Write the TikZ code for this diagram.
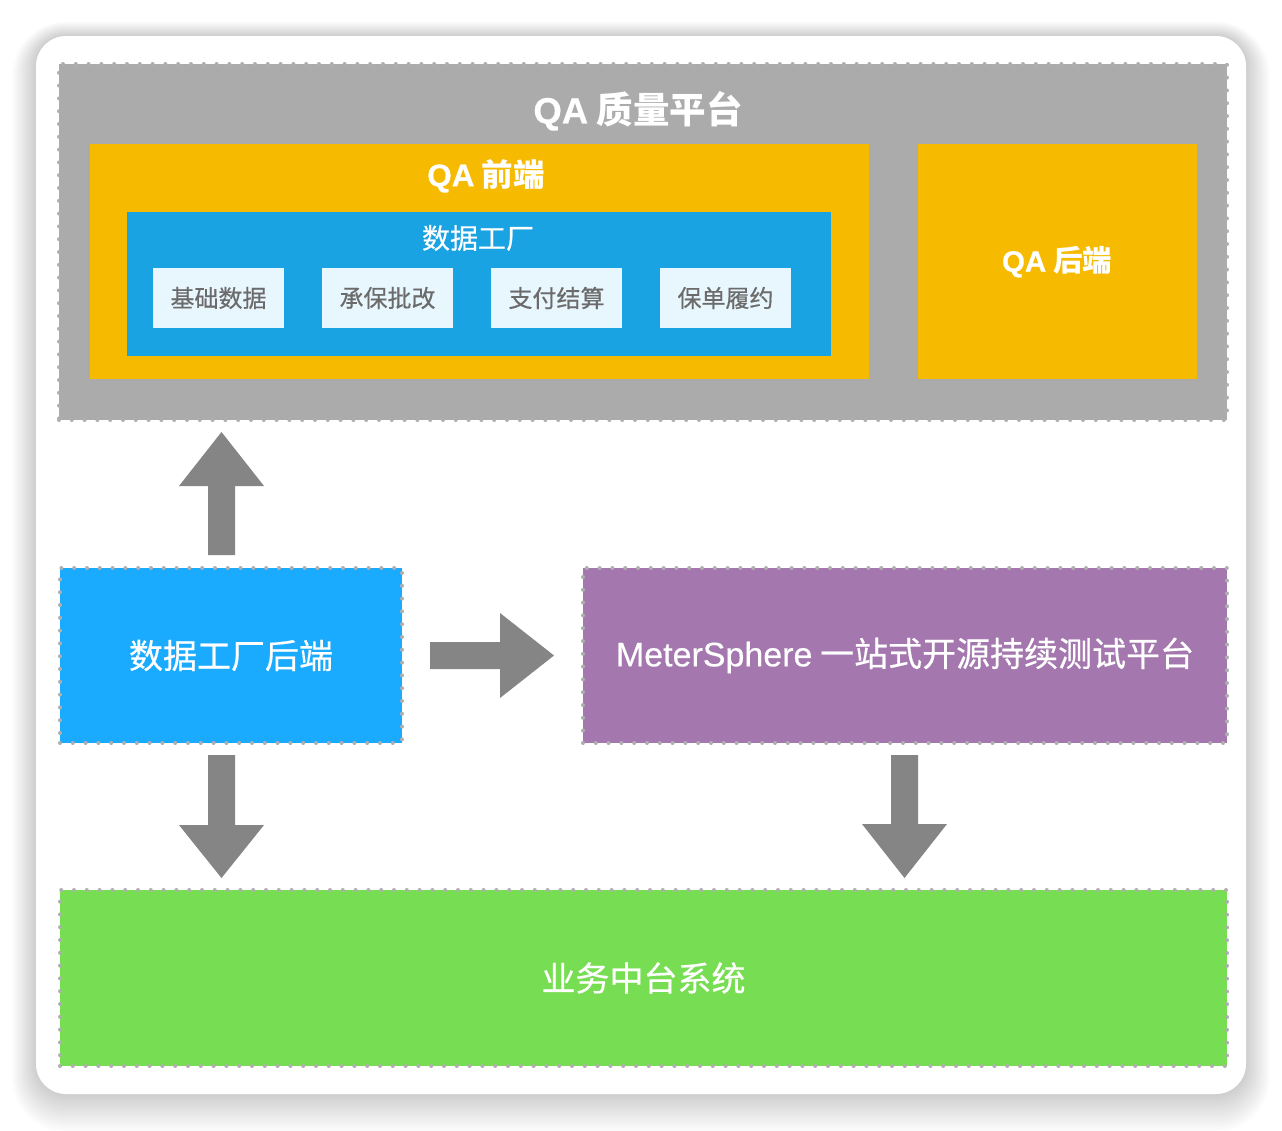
\documentclass[tikz,border=0pt]{standalone}
\usepackage{fontspec}
\setmainfont{Noto Sans CJK SC}
\newfontfamily\cjkm[FakeBold=0.5]{Noto Sans CJK SC}
\newfontfamily\latm[FakeBold=0.4]{Liberation Sans}
\newfontfamily\latb[UprightFont={* Bold}, FakeBold=0.6]{Liberation Sans}
\usetikzlibrary{calc}
\definecolor{qgray}{HTML}{ABABAB}
\definecolor{qorange}{HTML}{F6BA00}
\definecolor{qblue}{HTML}{1AA3E3}
\definecolor{qlight}{HTML}{E8F6FD}
\definecolor{qbright}{HTML}{1AABFF}
\definecolor{qpurple}{HTML}{A478AE}
\definecolor{qgreen}{HTML}{77DD53}
\definecolor{qarrow}{HTML}{858585}
\definecolor{qdot}{HTML}{AFAFAF}
\definecolor{qtext}{HTML}{6B6B6B}
\tikzset{
  panel/.style={rectangle, inner sep=0pt, outer sep=0pt},
  dotborder/.style={draw=qdot, line width=4pt, dash pattern=on 0pt off 12.8pt, line cap=round},
  subbox/.style={panel, fill=qlight, minimum width=131pt, minimum height=60pt, text=qtext, font=\cjkm\fontsize{24}{27}\selectfont},
  whitetxt/.style={inner sep=0pt, text=white},
  blockarrow/.style={fill=qarrow, draw=none}
}
\begin{document}
\begin{tikzpicture}[x=1pt,y=-1pt]
\useasboundingbox (0,0) rectangle (1282,1130);
\fill[white] (0,0) rectangle (1282,1130);
% shadow of card
\foreach \i in {1,...,24}{
  \pgfmathsetmacro\r{30+\i}
  \pgfmathsetmacro\xa{36-\i}
  \pgfmathsetmacro\xb{1246+\i}
  \pgfmathsetmacro\ya{36-\i+0.4*\i}
  \pgfmathsetmacro\yb{1094+\i+0.6*\i}
  \fill[black, fill opacity=0.008, rounded corners=\r pt] (\xa,\ya) rectangle (\xb,\yb);
}
\fill[white, rounded corners=30pt] (36,36) rectangle (1246,1094);

% QA platform
\node[panel, fill=qgray, dotborder, minimum width=1168pt, minimum height=356pt] (qa) at (643,242) {};
\node[whitetxt, font=\bfseries\fontsize{36.5}{40}\selectfont] (qat) at (638,111) {{\latb QA} 质量平台};

\node[panel, fill=qorange, minimum width=779pt, minimum height=235pt] (fe) at (479.5,261.5) {};
\node[whitetxt, font=\bfseries\fontsize{31.5}{34}\selectfont] (fet) at (486,176) {{\latb QA} 前端};

\node[panel, fill=qblue, minimum width=704pt, minimum height=144pt] (df) at (479,284) {};
\node[whitetxt, font=\cjkm\fontsize{28}{30}\selectfont] (dft) at (478,238) {数据工厂};

\node[subbox] (s1) at (218.5,298) {基础数据};
\node[subbox] (s2) at (387.5,298) {承保批改};
\node[subbox] (s3) at (556.5,298) {支付结算};
\node[subbox] (s4) at (725.5,298) {保单履约};

\node[panel, fill=qorange, minimum width=279pt, minimum height=235pt] (be) at (1057.5,261.5) {};
\node[whitetxt, font=\bfseries\fontsize{29.5}{32}\selectfont] (bet) at (1057,262) {{\latb QA} 后端};

% middle row
\node[panel, fill=qbright, dotborder, minimum width=342pt, minimum height=175pt,
      text=white, font=\cjkm\fontsize{34}{36}\selectfont] (dfb) at (231,655.5) {数据工厂后端};
\node[panel, fill=qpurple, dotborder, minimum width=644pt, minimum height=175pt,
      text=white, font=\cjkm\fontsize{34}{36}\selectfont] (ms) at (905,655.5) {{\latm MeterSphere} 一站式开源持续测试平台};

% bottom
\node[panel, fill=qgreen, dotborder, minimum width=1167pt, minimum height=176pt,
      text=white, font=\cjkm\fontsize{34}{36}\selectfont] (biz) at (643.5,978) {业务中台系统};

% block arrows
\fill[blockarrow] (208,555) -- (208,486) -- (179,486) -- (221.5,432) -- (264,486) -- (235,486) -- (235,555) -- cycle;
\fill[blockarrow] (430,642) -- (500,642) -- (500,613) -- (554,655.5) -- (500,698) -- (500,669) -- (430,669) -- cycle;
\fill[blockarrow] (208,755) -- (235,755) -- (235,825) -- (264,825) -- (221.5,878) -- (179,825) -- (208,825) -- cycle;
\fill[blockarrow] (891,755) -- (918,755) -- (918,824) -- (947,824) -- (904.5,878) -- (862,824) -- (891,824) -- cycle;
\end{tikzpicture}
\end{document}
